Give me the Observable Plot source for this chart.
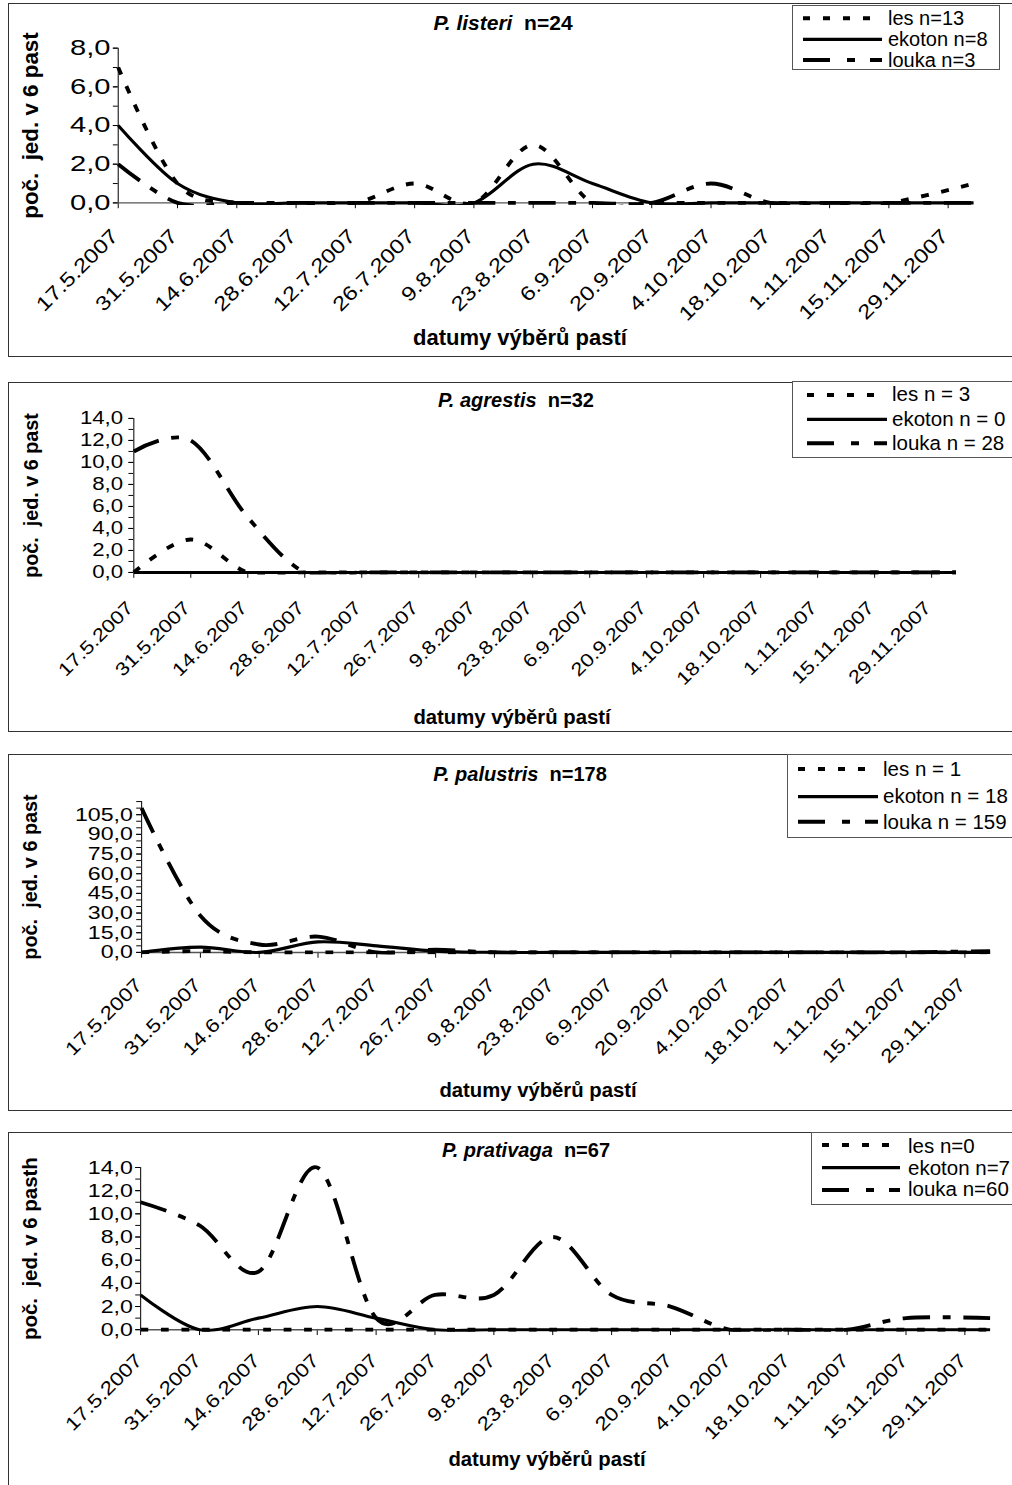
<!DOCTYPE html>
<html>
<head>
<meta charset="utf-8">
<script src="https://cdn.jsdelivr.net/npm/d3@7"></script>
<script src="https://cdn.jsdelivr.net/npm/@observablehq/plot@0.6"></script>
<style>
html, body { margin: 0; padding: 0; background: #fff; overflow: hidden; width: 1012px; height: 1485px; }
body { position: relative; font-family: "Liberation Sans", Arial, Helvetica, sans-serif; color: #000; }
.abs { position: absolute; white-space: pre; line-height: 1; }
</style>
</head>
<body>
<div id="root" style="position:absolute;left:0;top:0;width:1012px;height:1485px;overflow:hidden;"></div>
<script>
// ---------------- DATA ----------------
const sampleDates = ["17.5.2007","31.5.2007","14.6.2007","28.6.2007","12.7.2007","26.7.2007","9.8.2007","23.8.2007","6.9.2007","20.9.2007","4.10.2007","18.10.2007","1.11.2007","15.11.2007","5.12.2007"];
const tickLabels = ["17.5.2007","31.5.2007","14.6.2007","28.6.2007","12.7.2007","26.7.2007","9.8.2007","23.8.2007","6.9.2007","20.9.2007","4.10.2007","18.10.2007","1.11.2007","15.11.2007","29.11.2007"];
const habitats = ["les", "ekoton", "louka"];

const listeriLes    = [7, 1, 0, 0, 0, 1, 0, 3, 0, 0, 0, 0, 0, 0, 1];
const listeriEkoton = [4, 1, 0, 0, 0, 0, 0, 2, 1, 0, 0, 0, 0, 0, 0];
const listeriLouka  = [2, 0, 0, 0, 0, 0, 0, 0, 0, 0, 1, 0, 0, 0, 0];

const agrestisLes    = [0, 3, 0, 0, 0, 0, 0, 0, 0, 0, 0, 0, 0, 0, 0];
const agrestisEkoton = [0, 0, 0, 0, 0, 0, 0, 0, 0, 0, 0, 0, 0, 0, 0];
const agrestisLouka  = [11, 12, 5, 0, 0, 0, 0, 0, 0, 0, 0, 0, 0, 0, 0];

const palustrisLes    = [0, 1, 0, 0, 0, 0, 0, 0, 0, 0, 0, 0, 0, 0, 0];
const palustrisEkoton = [0, 4, 0, 8, 5, 1, 0, 0, 0, 0, 0, 0, 0, 0, 0];
const palustrisLouka  = [110, 28, 6, 12, 0, 2, 0, 0, 0, 0, 0, 0, 0, 0, 1];

const prativagaLes    = [0, 0, 0, 0, 0, 0, 0, 0, 0, 0, 0, 0, 0, 0, 0];
const prativagaEkoton = [3, 0, 1, 2, 1, 0, 0, 0, 0, 0, 0, 0, 0, 0, 0];
const prativagaLouka  = [11, 9, 5, 14, 1, 3, 3, 8, 3, 2, 0, 0, 0, 1, 1];

const speciesNames  = ["P. listeri", "P. agrestis", "P. palustris", "P. prativaga"];
const speciesTotals = ["n=24", "n=32", "n=178", "n=67"];
const legendLabels = [
  ["les n=13", "ekoton n=8", "louka n=3"],
  ["les n = 3", "ekoton n = 0", "louka n = 28"],
  ["les n = 1", "ekoton n = 18", "louka n = 159"],
  ["les n=0", "ekoton n=7", "louka n=60"]
];
const yAxisTitles = ["poč.  jed. v 6 past", "poč.  jed. v 6 past", "poč.  jed. v 6 past", "poč.  jed. v 6 pasth"];
const xAxisTitle = "datumy výběrů pastí";
const yMax   = [8, 14, 115, 14];
const yMajor = [2, 2, 15, 2];
const yMinor = [1, 1, 5, 1];

// ---------------- STYLE / LAYOUT ----------------
const FONT = '"Liberation Sans", Arial, Helvetica, sans-serif';
const lineStyle = {
  les:    {w: 4,   dash: "8,13"},
  ekoton: {w: 3.2, dash: null},
  louka:  {w: 4,   dash: "28,13,8,13"}
};
const legendDash = {les: "7,13", ekoton: null, louka: "27,17,8,15"};

const layout = [
  {svgTop: 0,    svgH: 360, left: 121, right: 1000, top: 49,    bottom: 208,
   box: [3, 357], title: {cx: 503, base: 30, fs: 21}, xt: {cx: 520, base: 346, fs: 22},
   yl: {x: 31.5, fs: 23}, ytfs: 22, ytsx: 1.36, ypad: 3,
   xtfs: 20.5, xtsx: 1.2, xrot: -45, xdx: -9, xdy: 25,
   leg: {left: 792, top: 5, right: 1000, bottom: 70, x1: 803, x2: 882, tx: 888, rows: [18.3, 39.3, 60], base: [25, 46, 66.7], fs: 20}},
  {svgTop: 380,  svgH: 360, left: 137, right: 982,  top: 419,   bottom: 577.3,
   box: [381.5, 732], title: {cx: 516, base: 407, fs: 20}, xt: {cx: 512, base: 724, fs: 20.3},
   yl: {x: 32, fs: 20.3}, ytfs: 19, ytsx: 1.2, ypad: 6,
   xtfs: 19, xtsx: 1.18, xrot: -45, xdx: -9, xdy: 28,
   leg: {left: 792, top: 381, right: 1100, bottom: 458, x1: 807, x2: 887, tx: 892, rows: [395, 419.3, 443.3], base: [401.7, 426, 450], fs: 20.5}},
  {svgTop: 750,  svgH: 365, left: 145, right: 1017, top: 802.5, bottom: 957.5,
   box: [754, 1111], title: {cx: 520, base: 781, fs: 20}, xt: {cx: 538, base: 1097, fs: 20.3},
   yl: {x: 31.5, fs: 20.4}, ytfs: 19.5, ytsx: 1.22, ypad: 4,
   xtfs: 19.5, xtsx: 1.18, xrot: -45, xdx: -8, xdy: 25,
   leg: {left: 787, top: 754, right: 1100, bottom: 838, x1: 798, x2: 878, tx: 883, rows: [769, 796.7, 821.7], base: [776.7, 803, 829], fs: 20.5}},
  {svgTop: 1120, svgH: 365, left: 144, right: 1017, top: 1168.3, bottom: 1335,
   box: [1132, 1700], title: {cx: 526, base: 1157, fs: 20}, xt: {cx: 547, base: 1466, fs: 20.3},
   yl: {x: 31, fs: 21}, ytfs: 19.5, ytsx: 1.22, ypad: 3,
   xtfs: 19.5, xtsx: 1.18, xrot: -45, xdx: -7, xdy: 23,
   leg: {left: 811, top: 1132, right: 1100, bottom: 1205, x1: 822, x2: 900, tx: 908, rows: [1145, 1167.7, 1190], base: [1153, 1175, 1196.7], fs: 20.5}}
];

const allSeries = [
  [listeriLes, listeriEkoton, listeriLouka],
  [agrestisLes, agrestisEkoton, agrestisLouka],
  [palustrisLes, palustrisEkoton, palustrisLouka],
  [prativagaLes, prativagaEkoton, prativagaLouka]
];

// ---------------- HELPERS ----------------
const parseDate = s => { const [d, m, y] = s.split(".").map(Number); return new Date(Date.UTC(y, m - 1, d)); };
const dates = sampleDates.map(parseDate);
const tickDates = tickLabels.map(parseDate);
const fmtComma = v => v.toFixed(1).replace(".", ",");
const root = document.getElementById("root");
const NS = "http://www.w3.org/2000/svg";

// horizontally stretch text glyphs about their anchor
function stretchTexts(texts, sx) {
  texts.forEach(t => {
    let tr = t.getAttribute("transform") || "";
    const x = t.getAttribute("x");
    if (x !== null && /^-?[\d.]+$/.test(x.trim())) { tr += ` translate(${x},0)`; t.removeAttribute("x"); }
    t.setAttribute("transform", (tr + ` scale(${sx},1)`).trim());
  });
}

function addText(parts, {cx, left, base, fs, align}) {
  const div = document.createElement("div");
  div.className = "abs";
  div.style.fontSize = fs + "px";
  div.style.top = (base - 0.8465 * fs) + "px";
  if (align === "center") {
    div.style.left = (cx - 400) + "px";
    div.style.width = "800px";
    div.style.textAlign = "center";
  } else {
    div.style.left = left + "px";
  }
  parts.forEach(p => {
    const s = document.createElement("span");
    s.textContent = p.text;
    if (p.bold) s.style.fontWeight = "bold";
    if (p.italic) s.style.fontStyle = "italic";
    div.appendChild(s);
  });
  div.style.zIndex = 5;
  root.appendChild(div);
  return div;
}

const overlay = document.createElementNS(NS, "svg");
overlay.setAttribute("width", 1012);
overlay.setAttribute("height", 1485);
overlay.style.cssText = "position:absolute;left:0;top:0;z-index:4;pointer-events:none;";

function drawPanel(k) {
  const L = layout[k];
  const series = allSeries[k];
  const W = 1040;

  const box = document.createElement("div");
  box.style.cssText = `position:absolute;left:8px;top:${L.box[0]}px;width:1100px;height:${L.box[1] - L.box[0]}px;border:1.5px solid #333;box-sizing:border-box;z-index:0;`;
  root.appendChild(box);

  const rows = [];
  habitats.forEach((h, i) => series[i].forEach((v, j) => rows.push({date: dates[j], value: v, hab: h})));

  const yTop = L.top - L.svgTop, yBot = L.bottom - L.svgTop;
  const chart = Plot.plot({
    width: W,
    height: L.svgH,
    marginLeft: L.left,
    marginRight: W - L.right,
    marginTop: yTop,
    marginBottom: L.svgH - yBot,
    x: {type: "utc", domain: [dates[0], dates[dates.length - 1]], axis: null, label: null},
    y: {domain: [0, yMax[k]], axis: null, label: null},
    style: {fontFamily: FONT, background: "transparent", overflow: "visible", color: "#000"},
    marks: [
      Plot.axisY(d3.range(0, yMax[k] + 1e-9, yMinor[k]), {tickSize: 5, tickFormat: () => "", label: null}),
      Plot.axisY(d3.range(0, yMax[k] + 1e-9, yMajor[k]), {tickSize: 5, tickPadding: L.ypad, tickFormat: fmtComma, fontSize: L.ytfs, label: null}),
      Plot.axisX(tickDates, {tickSize: 6, tickFormat: () => "", label: null}),
      Plot.ruleX([dates[0]], {stroke: "#222", strokeWidth: 1.2}),
      Plot.ruleY([0], {stroke: "#555", strokeWidth: 1.5}),
      Plot.text(tickDates, {x: d => d, text: (d, i) => tickLabels[i], frameAnchor: "bottom", rotate: L.xrot,
        textAnchor: "end", lineAnchor: "top", dx: L.xdx, dy: L.xdy, fontSize: L.xtfs, fill: "#000"}),
      Plot.text([yAxisTitles[k]], {text: d => d, frameAnchor: "left", dx: L.yl.x - L.left, rotate: -90,
        textAnchor: "middle", lineAnchor: "middle", fontSize: L.yl.fs, fontWeight: "bold", fill: "#000"}),
      ...habitats.map(h => Plot.line(rows.filter(d => d.hab === h), {
        x: "date", y: "value", curve: "cardinal", stroke: "#000",
        strokeWidth: lineStyle[h].w, strokeDasharray: lineStyle[h].dash, strokeLinecap: "butt", strokeLinejoin: "round"
      }))
    ]
  });
  chart.style.position = "absolute";
  chart.style.left = "0px";
  chart.style.top = L.svgTop + "px";
  chart.style.zIndex = 1;
  chart.querySelectorAll("text").forEach(t => t.style.whiteSpace = "pre");
  stretchTexts(Array.from(chart.querySelectorAll('g[aria-label="y-axis tick label"] text')), L.ytsx);
  stretchTexts(Array.from(chart.querySelectorAll("text")).filter(t => (t.getAttribute("transform") || "").includes(`rotate(${L.xrot})`)), L.xtsx);

  // clip smoothed lines just below the plot area (like the plot-area clipping of the original)
  const defs = document.createElementNS(NS, "defs");
  const cp = document.createElementNS(NS, "clipPath");
  cp.setAttribute("id", "clip" + k);
  const r = document.createElementNS(NS, "rect");
  r.setAttribute("x", L.left - 6);
  r.setAttribute("y", yTop - 12);
  r.setAttribute("width", L.right - L.left + 12);
  r.setAttribute("height", yBot - yTop + 12 + 2.2);
  cp.appendChild(r); defs.appendChild(cp); chart.insertBefore(defs, chart.firstChild);
  chart.querySelectorAll('g[aria-label="line"]').forEach(gl => gl.setAttribute("clip-path", `url(#clip${k})`));
  root.appendChild(chart);

  addText([{text: speciesNames[k], bold: true, italic: true}, {text: "  " + speciesTotals[k], bold: true}],
    {cx: L.title.cx, base: L.title.base, fs: L.title.fs, align: "center"});
  addText([{text: xAxisTitle, bold: true}], {cx: L.xt.cx, base: L.xt.base, fs: L.xt.fs, align: "center"});

  const g = L.leg;
  const lb = document.createElement("div");
  lb.style.cssText = `position:absolute;left:${g.left}px;top:${g.top}px;width:${g.right - g.left}px;height:${g.bottom - g.top}px;border:1px solid #555;background:#fff;box-sizing:border-box;z-index:3;`;
  root.appendChild(lb);
  habitats.forEach((h, i) => {
    const ln = document.createElementNS(NS, "line");
    ln.setAttribute("x1", g.x1); ln.setAttribute("x2", g.x2);
    ln.setAttribute("y1", g.rows[i]); ln.setAttribute("y2", g.rows[i]);
    ln.setAttribute("stroke", "#000");
    ln.setAttribute("stroke-width", lineStyle[h].w);
    if (legendDash[h]) ln.setAttribute("stroke-dasharray", legendDash[h]);
    overlay.appendChild(ln);
    addText([{text: legendLabels[k][i]}], {left: g.tx, base: g.base[i], fs: g.fs});
  });
}

[0, 1, 2, 3].forEach(drawPanel);
root.appendChild(overlay);
</script>
</body>
</html>
